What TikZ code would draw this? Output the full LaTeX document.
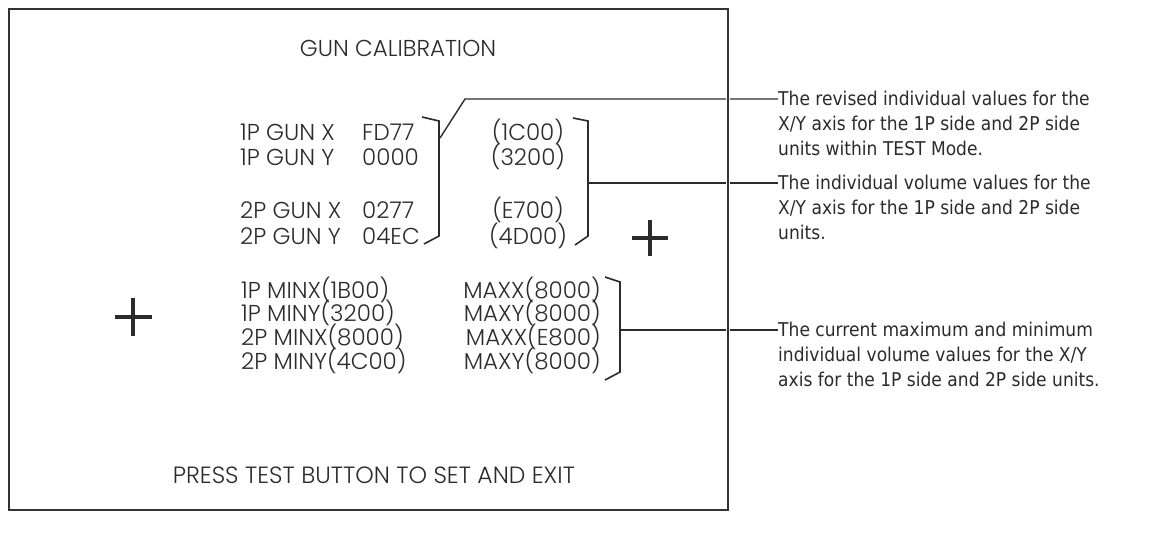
\documentclass[tikz,border=0pt]{standalone}
\usepackage{fontspec}
\newfontfamily\scrfont{Poppins Light}
\newfontfamily\notefont{DejaVu Sans}[FakeStretch=0.9]
\definecolor{ink}{HTML}{2B2B2B}
\definecolor{boxc}{HTML}{333333}
\begin{document}
\begin{tikzpicture}[x=1pt,y=-1pt,
  scr/.style={font=\scrfont\fontsize{23}{27}\selectfont, inner sep=0pt, text height=16pt, text depth=0pt, text=ink},
  note/.style={font=\notefont\fontsize{19}{23}\selectfont, inner sep=0pt, text height=13.8pt, text depth=0pt, anchor=west, text=ink},
  brk/.style={draw=ink, line width=1.6pt, line join=miter},
  lead/.style={draw=ink, line width=1.4pt},
  crossmark/.style={draw=ink, line width=3.5pt}]
\useasboundingbox (0,0) rectangle (1158,536);
% screen texts
\node[scr] (title) at (398,48) {GUN CALIBRATION};
\node[scr,anchor=west] (g1) at (240,132) {1P GUN X};
\node[scr,anchor=west] (v1) at (362,132) {FD77};
\node[scr,anchor=west] (g2) at (240,157) {1P GUN Y};
\node[scr,anchor=west] (v2) at (362,157) {0000};
\node[scr,anchor=west] (g3) at (240,210) {2P GUN X};
\node[scr,anchor=west] (v3) at (362,210) {0277};
\node[scr,anchor=west] (g4) at (240,236) {2P GUN Y};
\node[scr,anchor=west] (v4) at (362,236) {04EC};
\node[scr] (r1) at (528,132) {(1C00)};
\node[scr] (r2) at (528,157) {(3200)};
\node[scr] (r3) at (528,210) {(E700)};
\node[scr] (r4) at (528,236) {(4D00)};
\node[scr,anchor=west] (m1) at (241,290) {1P MINX(1B00)};
\node[scr,anchor=west] (m2) at (241,313) {1P MINY(3200)};
\node[scr,anchor=west] (m3) at (241,337) {2P MINX(8000)};
\node[scr,anchor=west] (m4) at (241,361) {2P MINY(4C00)};
\node[scr,anchor=east] (x1) at (601,290) {MAXX(8000)};
\node[scr,anchor=east] (x2) at (601,313) {MAXY(8000)};
\node[scr,anchor=east] (x3) at (601,337) {MAXX(E800)};
\node[scr,anchor=east] (x4) at (601,361) {MAXY(8000)};
\node[scr,font=\scrfont\fontsize{23.5}{27}\selectfont] (press) at (374,475) {PRESS TEST BUTTON TO SET AND EXIT};
% cross marks
\draw[crossmark] (632,238) -- (668,238) (650,220) -- (650,256);
\draw[crossmark] (115,317) -- (152,317) (133,298) -- (133,336);
% annotations
\node[note] (a1) at (778,99) {The revised individual values for the};
\node[note] (a1b) at (778,124) {X/Y axis for the 1P side and 2P side};
\node[note] (a1c) at (778,149) {units within TEST Mode.};
\node[note] (a2) at (778,183) {The individual volume values for the};
\node[note] (a2b) at (778,208) {X/Y axis for the 1P side and 2P side};
\node[note] (a2c) at (778,233) {units.};
\node[note] (a3) at (778,330) {The current maximum and minimum};
\node[note] (a3b) at (778,355) {individual volume values for the X/Y};
\node[note] (a3c) at (778,380) {axis for the 1P side and 2P side units.};
% brackets
\draw[brk] (422,117) -- (439,121) -- (439,236) -- (424,244);
\draw[brk] (573,118) -- (588,121) -- (588,236) -- (575,245);
\draw[brk] (605,277) -- (620,282) -- (620,372) -- (605,380);
\coordinate (b1) at (440,138);
\coordinate (k1) at (465,99);
\coordinate (b2) at (588,183);
\coordinate (b3) at (620,330);
\draw[lead] (b1) -- (k1) -- (a1.west);
\draw[lead] (b2) -- (a2.west);
\draw[lead] (b3) -- (a3.west);
% screen frame
\draw[white, line width=4.5pt] (728,9) -- (728,510);
\draw[boxc, line width=2.5pt] (9,9) rectangle (728,510);
\end{tikzpicture}
\end{document}
